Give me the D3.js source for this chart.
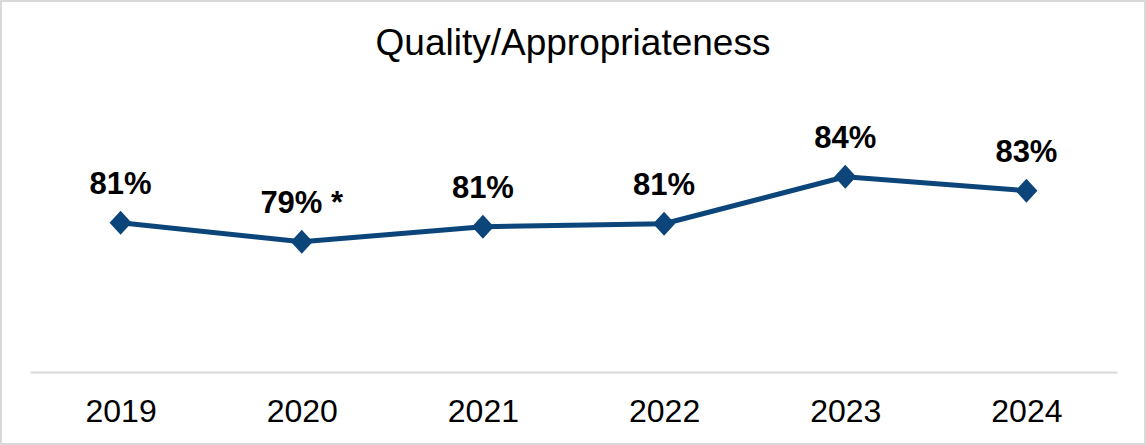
<!DOCTYPE html>
<html>
<head>
<meta charset="utf-8">
<script src="https://cdn.jsdelivr.net/npm/d3@7"></script>
<style>
  html, body { margin: 0; padding: 0; background: #ffffff; }
  svg { display: block; }
  text { font-family: "Liberation Sans", Arial, Helvetica, sans-serif; }
</style>
</head>
<body>
<svg id="chart" width="1146" height="445"></svg>
<script>
// Survey results by year
const years = ["2019", "2020", "2021", "2022", "2023", "2024"];
const scores = [0.8086, 0.7945, 0.8056, 0.8078, 0.8426, 0.8323];
// Footnote markers appended to individual value labels
const labelNotes = ["", " *", "", "", "", ""];
const chartTitle = "Quality/Appropriateness";

const W = 1146, H = 445;
const plot = { left: 30, right: 1117, top: 102, bottom: 372 };
const lineColor = "#0B457A";

const svg = d3.select("#chart");

// outer frame
svg.append("rect")
  .attr("x", 1).attr("y", 1)
  .attr("width", W - 2).attr("height", H - 2)
  .attr("fill", "#ffffff")
  .attr("stroke", "#d9d9d9")
  .attr("stroke-width", 2);

// title
svg.append("text")
  .attr("x", W / 2)
  .attr("y", 55)
  .attr("text-anchor", "middle")
  .attr("font-size", 37)
  .attr("fill", "#000000")
  .text(chartTitle);

const x = d3.scalePoint()
  .domain(years)
  .range([plot.left, plot.right])
  .padding(0.5);

const y = d3.scaleLinear()
  .domain([0.698, 0.898])
  .range([plot.bottom, plot.top]);

// category axis
const xAxis = svg.append("g")
  .attr("transform", `translate(0,${plot.bottom})`)
  .call(d3.axisBottom(x).tickSize(0).tickPadding(0));
xAxis.select(".domain")
  .attr("stroke", "#d9d9d9")
  .attr("stroke-width", 2);
xAxis.selectAll(".tick text")
  .attr("dy", null)
  .attr("y", 50)
  .attr("font-size", 32)
  .attr("font-family", "'Liberation Sans', Arial, sans-serif")
  .attr("fill", "#000000");

const data = years.map((yr, i) => ({ year: yr, value: scores[i], note: labelNotes[i] }));

// trend line
svg.append("path")
  .datum(data)
  .attr("fill", "none")
  .attr("stroke", lineColor)
  .attr("stroke-width", 5)
  .attr("stroke-linejoin", "round")
  .attr("d", d3.line().x(d => x(d.year)).y(d => y(d.value)));

// diamond markers (slightly taller than wide)
const diamond = (w, h) => `M0,${-h / 2}L${w / 2},0L0,${h / 2}L${-w / 2},0Z`;
svg.append("g")
  .selectAll("path")
  .data(data)
  .join("path")
  .attr("transform", d => `translate(${x(d.year)},${y(d.value)})`)
  .attr("d", diamond(22, 24))
  .attr("fill", lineColor);

// value labels
const fmt = d3.format(".0%");
svg.append("g")
  .selectAll("text")
  .data(data)
  .join("text")
  .attr("x", d => x(d.year))
  .attr("y", d => y(d.value) - 29)
  .attr("text-anchor", "middle")
  .attr("font-size", 31)
  .attr("font-weight", "bold")
  .attr("fill", "#000000")
  .text(d => fmt(d.value) + d.note);
</script>
</body>
</html>
